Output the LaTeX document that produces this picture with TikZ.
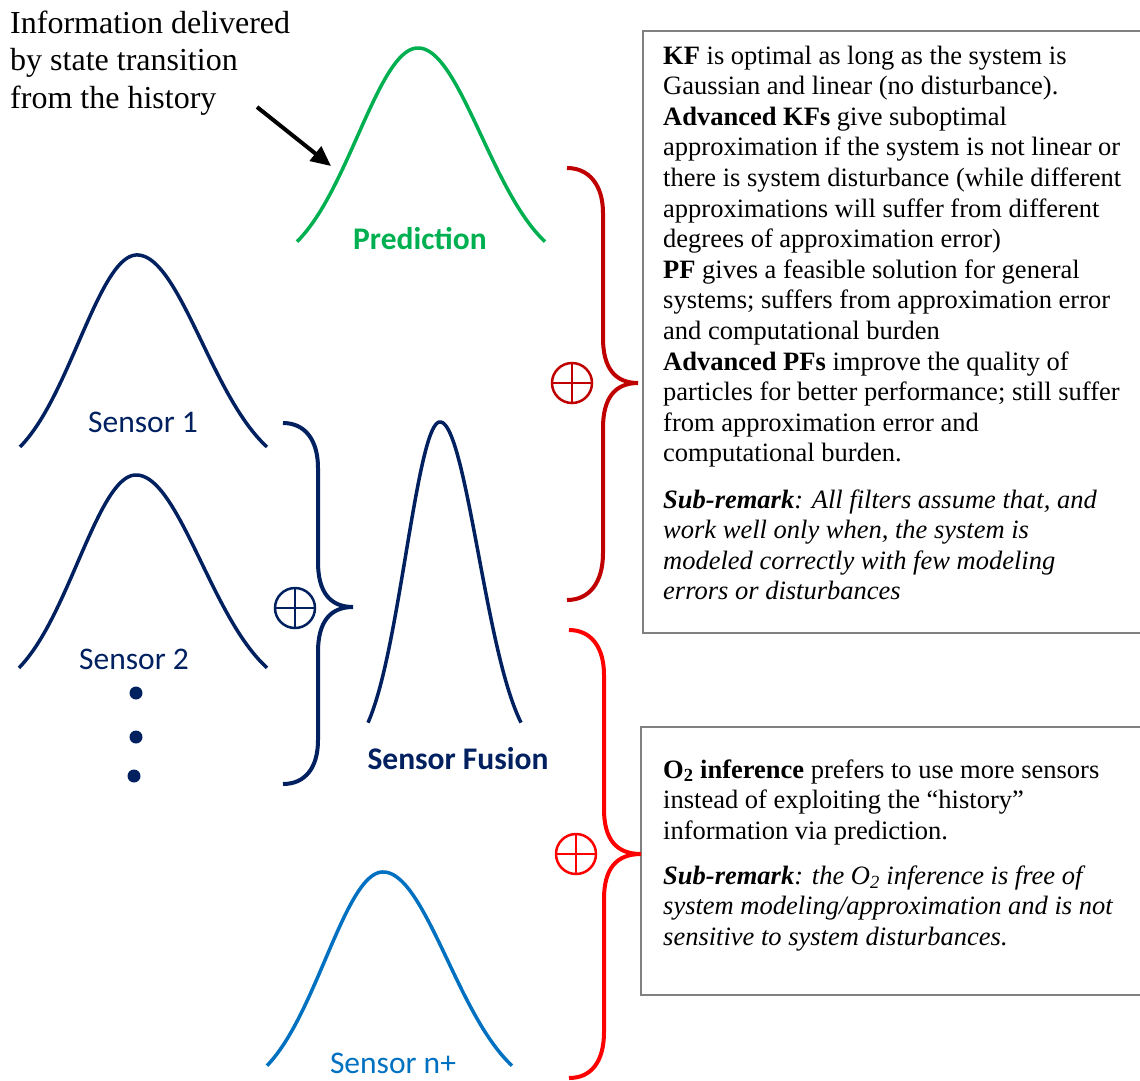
\documentclass[tikz,border=0pt]{standalone}
\usepackage{fontspec}
\setmainfont{Liberation Serif}
\newfontfamily\calibri{Carlito}
\usetikzlibrary{arrows.meta}
\definecolor{navyc}{HTML}{002060}
\definecolor{greenc}{HTML}{00B050}
\definecolor{darkredc}{HTML}{C00000}
\definecolor{redc}{HTML}{FF0000}
\definecolor{bluec}{HTML}{0070C0}
\definecolor{boxgray}{HTML}{808080}
\begin{document}
\begin{tikzpicture}[x=1pt,y=-1pt,
  bell/.style={line width=3.5pt},
  bracestyle/.style={line width=4pt},
  boxline/.style={draw=boxgray, line width=2pt},
  oplusnode/.style={circle, minimum size=40pt, inner sep=0pt, draw=#1, line width=2.5pt,
    path picture={\draw[#1, line width=2.5pt] (path picture bounding box.north) -- (path picture bounding box.south)
      (path picture bounding box.west) -- (path picture bounding box.east);}},
  sanslabel/.style={font=\calibri\fontsize{31.5}{36}\selectfont, inner sep=0pt, anchor=base},
  sansbold/.style={font=\calibri\bfseries\fontsize{31.5}{36}\selectfont, inner sep=0pt, anchor=base},
  dotnode/.style={circle, fill=navyc, minimum size=13pt, inner sep=0pt},
  textblock/.style={anchor=base west, inner sep=0pt}
]
\useasboundingbox (0,0) rectangle (1140,1080);
\clip (0,0) rectangle (1140,1080);

% text boxes
\draw[boxline] (643,31) rectangle (1170,633);
\draw[boxline] (641,727) rectangle (1170,995);

\node[textblock] (kftext) at (663,64) {\parbox[t]{475pt}{\fontsize{26.5}{30.6}\selectfont\raggedright
\textbf{KF} is optimal as long as the system is\\
Gaussian and linear (no disturbance).\\
\textbf{Advanced KFs} give suboptimal\\
approximation if the system is not linear or\\
there is system disturbance (while different\\
approximations will suffer from different\\
degrees of approximation error)\\
\textbf{PF} gives a feasible solution for general\\
systems; suffers from approximation error\\
and computational burden\\
\textbf{Advanced PFs} improve the quality of\\
particles for better performance; still suffer\\
from approximation error and\\
computational burden.\par
\vspace{15.6pt}
\textbf{\textit{Sub-remark}}\textit{: All filters assume that, and}\\
\textit{work well only when, the system is}\\
\textit{modeled correctly with few modeling}\\
\textit{errors or disturbances}\par}};

\node[textblock] (o2text) at (663,778) {\parbox[t]{475pt}{\fontsize{26.5}{30.6}\selectfont\raggedright
\textbf{O\textsubscript{2} inference} prefers to use more sensors\\
instead of exploiting the “history”\\
information via prediction.\par
\vspace{14.5pt}
\textbf{\textit{Sub-remark}}\textit{: the O\textsubscript{2} inference is free of}\\
\textit{system modeling/approximation and is not}\\
\textit{sensitive to system disturbances.}\par}};

% top-left annotation
\node[textblock] (info) at (10,33) {\parbox[t]{320pt}{\fontsize{32}{37.5}\selectfont\raggedright
Information delivered\\
by state transition\\
from the history\par}};
\coordinate (arrS) at (257,107);
\coordinate (arrE) at (331,166);
\draw[line width=4pt, -{Triangle[length=20pt,width=18pt]}] (arrS) -- (arrE);

% bell curves
\draw[bell, greenc] plot[domain=297:545, samples=120] (\x, {272 - 224*exp(-0.5*((\x-418)/((\x<418)?60.5:63.5))^2)});
\draw[bell, navyc] plot[domain=20:267, samples=120] (\x, {477 - 222*exp(-0.5*((\x-137)/((\x<137)?58.5:65))^2)});
\draw[bell, navyc] plot[domain=19:267, samples=120] (\x, {698 - 223*exp(-0.5*((\x-136)/((\x<136)?58.5:65.5))^2)});
\draw[bell, bluec] plot[domain=267:512, samples=120] (\x, {1096 - 224*exp(-0.5*((\x-383)/((\x<383)?58:64.5))^2)});
\draw[bell, navyc] plot[domain=368:521, samples=120] (\x, {760 - 338*exp(-0.5*((\x-440)/((\x<440)?34.3:38.6))^2)});

% labels
\node[sansbold, text=greenc] (predlab) at (420,249) {Prediction};
\node[sanslabel, text=navyc] (s1lab) at (143,432) {Sensor 1};
\node[sanslabel, text=navyc] (s2lab) at (134,669) {Sensor 2};
\node[sansbold, text=navyc] (fuslab) at (458,769) {Sensor Fusion};
\node[sanslabel, text=bluec] (snlab) at (393,1073) {Sensor n+};

% dots
\node[dotnode] (d1) at (136,693) {};
\node[dotnode] (d2) at (136,737) {};
\node[dotnode] (d3) at (134,776) {};

% braces
\draw[bracestyle, navyc] (283,423) .. controls (305,423) and (318,440) .. (318,468) -- (318,562)
  .. controls (318,592) and (330,607) .. (353,607) .. controls (330,607) and (318,622) .. (318,652)
  -- (318,740) .. controls (318,768) and (305,784) .. (283,784);
\draw[bracestyle, darkredc] (567,168) .. controls (589,168) and (603,185) .. (603,213) -- (603,338)
  .. controls (603,368) and (615,383) .. (638,383) .. controls (615,383) and (603,398) .. (603,428)
  -- (603,553) .. controls (603,583) and (589,600) .. (567,600);
\draw[bracestyle, redc] (569,630) .. controls (591,630) and (604,647) .. (604,675) -- (604,809)
  .. controls (604,839) and (616,854) .. (641,854) .. controls (616,854) and (604,869) .. (604,899)
  -- (604,1032) .. controls (604,1062) and (591,1078) .. (569,1078);

% oplus symbols
\node[oplusnode=navyc] (op1) at (295,608) {};
\node[oplusnode=darkredc] (op2) at (572,383) {};
\node[oplusnode=redc] (op3) at (576,854) {};
\end{tikzpicture}
\end{document}
